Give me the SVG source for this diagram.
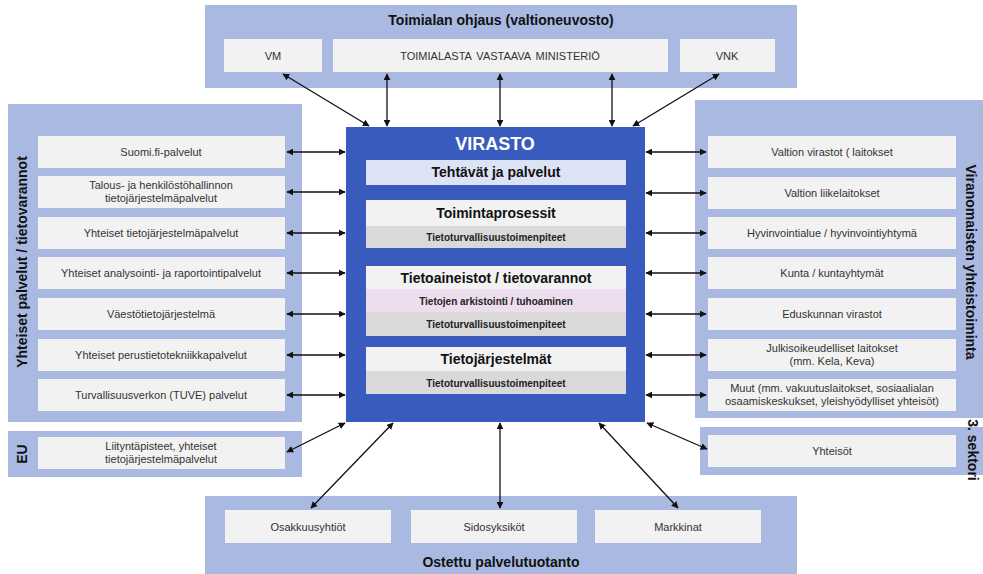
<svg xmlns="http://www.w3.org/2000/svg" width="983" height="574" viewBox="0 0 983 574">
  <defs>
    <marker id="ah" viewBox="0 0 10 10" refX="9" refY="5" markerWidth="7" markerHeight="7" orient="auto-start-reverse" markerUnits="userSpaceOnUse">
      <path d="M0,0 L10,5 L0,10 z" fill="#111"/>
    </marker>
    <style>
      .panel { fill: #A9B9E2; }
      .box { fill: #F2F2F2; }
      .grey { fill: #D9D9D9; }
      .pink { fill: #EEDDEE; }
      .lite { fill: #DCE3F4; }
      .t { font-family: "Liberation Sans", Arial, sans-serif; font-size: 11px; fill: #333; text-anchor: middle; }
      .h { font-family: "Liberation Sans", Arial, sans-serif; font-size: 14px; font-weight: bold; fill: #111; text-anchor: middle; }
      .s { font-family: "Liberation Sans", Arial, sans-serif; font-size: 10px; font-weight: bold; fill: #222; text-anchor: middle; }
      .c { stroke: #111; stroke-width: 1.3; fill: none; marker-start: url(#ah); marker-end: url(#ah); }
    </style>
  </defs>
  <rect width="983" height="574" fill="#fff"/>

  <!-- Toimialan ohjaus -->
  <g id="ohjaus">
    <rect class="panel" x="205" y="5" width="592" height="83"/>
    <text class="h" x="501" y="25">Toimialan ohjaus (valtioneuvosto)</text>
    <rect class="box" x="224" y="39" width="98" height="33"/>
    <text class="t" x="273" y="60">VM</text>
    <rect class="box" x="333" y="39" width="335" height="33"/>
    <text class="t" x="500" y="60" word-spacing="2">TOIMIALASTA VASTAAVA MINISTERIÖ</text>
    <rect class="box" x="680" y="39" width="95" height="33"/>
    <text class="t" x="727" y="60">VNK</text>
  </g>

  <!-- Yhteiset palvelut -->
  <g id="yhteiset">
    <rect class="panel" x="8" y="104" width="294" height="318"/>
    <text class="h" transform="translate(27,262) rotate(-90)">Yhteiset palvelut / tietovarannot</text>
    <rect class="box" x="38" y="136" width="247" height="32"/>
    <text class="t" x="161" y="156">Suomi.fi-palvelut</text>
    <rect class="box" x="38" y="176" width="247" height="32"/>
    <text class="t" x="161" y="189">Talous- ja henkilöstöhallinnon</text>
    <text class="t" x="161" y="202">tietojärjestelmäpalvelut</text>
    <rect class="box" x="38" y="217" width="247" height="32"/>
    <text class="t" x="161" y="237">Yhteiset tietojärjestelmäpalvelut</text>
    <rect class="box" x="38" y="257" width="247" height="32"/>
    <text class="t" x="161" y="277">Yhteiset analysointi- ja raportointipalvelut</text>
    <rect class="box" x="38" y="298" width="247" height="32"/>
    <text class="t" x="161" y="318">Väestötietojärjestelmä</text>
    <rect class="box" x="38" y="339" width="247" height="32"/>
    <text class="t" x="161" y="359">Yhteiset perustietotekniikkapalvelut</text>
    <rect class="box" x="38" y="379" width="247" height="32"/>
    <text class="t" x="161" y="399">Turvallisuusverkon (TUVE) palvelut</text>
  </g>

  <!-- EU -->
  <g id="eu">
    <rect class="panel" x="8" y="431" width="294" height="46"/>
    <text class="h" transform="translate(27,454) rotate(-90)">EU</text>
    <rect class="box" x="38" y="437" width="247" height="32"/>
    <text class="t" x="161" y="450">Liityntäpisteet, yhteiset</text>
    <text class="t" x="161" y="463">tietojärjestelmäpalvelut</text>
  </g>

  <!-- Viranomaisten yhteistoiminta -->
  <g id="viranomaiset">
    <rect class="panel" x="695" y="100" width="288" height="318"/>
    <text class="h" transform="translate(966,262) rotate(90)">Viranomaisten yhteistoiminta</text>
    <rect class="box" x="708" y="136" width="248" height="32"/>
    <text class="t" x="832" y="156">Valtion virastot ( laitokset</text>
    <rect class="box" x="708" y="177" width="248" height="32"/>
    <text class="t" x="832" y="197">Valtion liikelaitokset</text>
    <rect class="box" x="708" y="217" width="248" height="32"/>
    <text class="t" x="832" y="237">Hyvinvointialue / hyvinvointiyhtymä</text>
    <rect class="box" x="708" y="257" width="248" height="32"/>
    <text class="t" x="832" y="277">Kunta / kuntayhtymät</text>
    <rect class="box" x="708" y="298" width="248" height="32"/>
    <text class="t" x="832" y="318">Eduskunnan virastot</text>
    <rect class="box" x="708" y="339" width="248" height="32"/>
    <text class="t" x="832" y="352">Julkisoikeudelliset laitokset</text>
    <text class="t" x="832" y="365">(mm. Kela, Keva)</text>
    <rect class="box" x="708" y="379" width="248" height="32"/>
    <text class="t" x="832" y="392">Muut (mm. vakuutuslaitokset, sosiaalialan</text>
    <text class="t" x="832" y="405">osaamiskeskukset, yleishyödylliset yhteisöt)</text>
  </g>

  <!-- 3. sektori -->
  <g id="sektori">
    <rect class="panel" x="700" y="427" width="283" height="48"/>
    <rect class="box" x="708" y="435" width="248" height="32"/>
    <text class="t" x="832" y="455">Yhteisöt</text>
    <text class="h" transform="translate(968,450) rotate(90)">3. sektori</text>
  </g>

  <!-- Ostettu palvelutuotanto -->
  <g id="ostettu">
    <rect class="panel" x="205" y="496" width="592" height="78"/>
    <rect class="box" x="225" y="510" width="166" height="33"/>
    <text class="t" x="308" y="531">Osakkuusyhtiöt</text>
    <rect class="box" x="411" y="510" width="166" height="33"/>
    <text class="t" x="494" y="531">Sidosyksiköt</text>
    <rect class="box" x="595" y="510" width="166" height="33"/>
    <text class="t" x="678" y="531">Markkinat</text>
    <text class="h" x="501" y="567">Ostettu palvelutuotanto</text>
  </g>

  <!-- Virasto -->
  <g id="virasto">
    <rect x="346" y="127" width="299" height="295" fill="#3A5BBE"/>
    <text x="495" y="150" font-family="Liberation Sans, Arial, sans-serif" font-size="18" font-weight="bold" fill="#fff" text-anchor="middle">VIRASTO</text>
    <rect class="lite" x="366" y="160" width="260" height="25"/>
    <text class="h" x="496" y="177" font-size="13">Tehtävät ja palvelut</text>
    <rect class="box" x="366" y="200" width="260" height="26"/>
    <text class="h" x="496" y="218">Toimintaprosessit</text>
    <rect class="grey" x="366" y="226" width="260" height="22"/>
    <text class="s" x="496" y="241">Tietoturvallisuustoimenpiteet</text>
    <rect class="box" x="366" y="266" width="260" height="23"/>
    <text class="h" x="496" y="283">Tietoaineistot / tietovarannot</text>
    <rect class="pink" x="366" y="289" width="260" height="23"/>
    <text class="s" x="496" y="305">Tietojen arkistointi / tuhoaminen</text>
    <rect class="grey" x="366" y="312" width="260" height="24"/>
    <text class="s" x="496" y="328">Tietoturvallisuustoimenpiteet</text>
    <rect class="box" x="366" y="347" width="260" height="24"/>
    <text class="h" x="496" y="364">Tietojärjestelmät</text>
    <rect class="grey" x="366" y="371" width="260" height="23"/>
    <text class="s" x="496" y="387">Tietoturvallisuustoimenpiteet</text>
  </g>

  <!-- Connectors -->
  <g id="connectors">
    <line class="c" x1="283" y1="74" x2="369" y2="126"/>
    <line class="c" x1="387" y1="74" x2="387" y2="126"/>
    <line class="c" x1="500" y1="74" x2="500" y2="126"/>
    <line class="c" x1="612" y1="74" x2="612" y2="126"/>
    <line class="c" x1="719" y1="74" x2="633" y2="126"/>

    <line class="c" x1="287" y1="152" x2="345" y2="152"/>
    <line class="c" x1="287" y1="192" x2="345" y2="192"/>
    <line class="c" x1="287" y1="233" x2="345" y2="233"/>
    <line class="c" x1="287" y1="273" x2="345" y2="273"/>
    <line class="c" x1="287" y1="314" x2="345" y2="314"/>
    <line class="c" x1="287" y1="355" x2="345" y2="355"/>
    <line class="c" x1="287" y1="395" x2="345" y2="395"/>

    <line class="c" x1="646" y1="152" x2="706" y2="152"/>
    <line class="c" x1="646" y1="193" x2="706" y2="193"/>
    <line class="c" x1="646" y1="233" x2="706" y2="233"/>
    <line class="c" x1="646" y1="273" x2="706" y2="273"/>
    <line class="c" x1="646" y1="314" x2="706" y2="314"/>
    <line class="c" x1="646" y1="355" x2="706" y2="355"/>
    <line class="c" x1="646" y1="395" x2="706" y2="395"/>

    <line class="c" x1="345" y1="423" x2="287" y2="452"/>
    <line class="c" x1="647" y1="423" x2="707" y2="449"/>

    <line class="c" x1="393" y1="423" x2="311" y2="508"/>
    <line class="c" x1="500" y1="423" x2="500" y2="508"/>
    <line class="c" x1="599" y1="423" x2="678" y2="508"/>
  </g>
</svg>
